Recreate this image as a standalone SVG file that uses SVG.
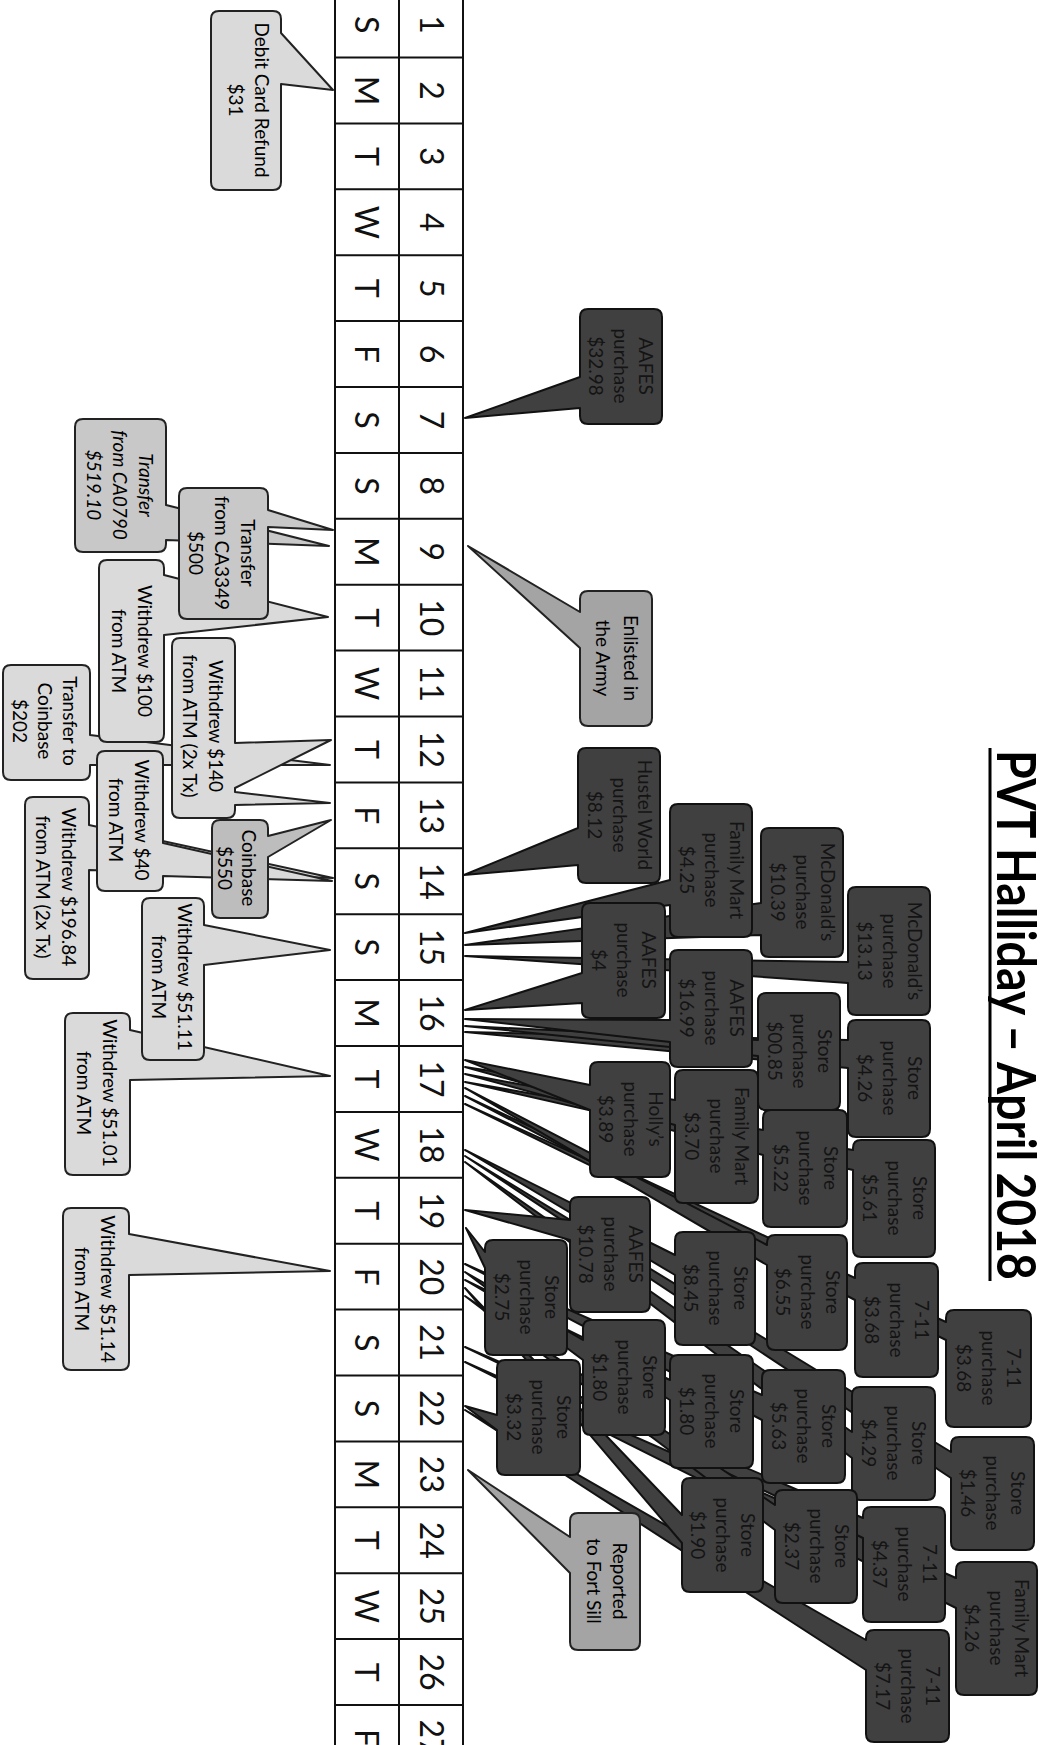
<svg xmlns="http://www.w3.org/2000/svg" width="1044" height="1745" viewBox="0 0 1044 1745">
<style>
text{font-family:Lato,"Open Sans","Liberation Sans",sans-serif}
.t{font-size:19px;text-anchor:middle;dominant-baseline:central;fill:#000}
.ti{font-style:italic}
.td{font-size:19px;text-anchor:middle;dominant-baseline:central;fill:#141414}
.c{font-size:32px;text-anchor:middle;dominant-baseline:central;fill:#111}
.lt{fill:#dadada;stroke:#222;stroke-width:2;stroke-linejoin:round}
.tr{fill:#c8c8c8;stroke:#222;stroke-width:2;stroke-linejoin:round}
.cb{fill:#bdbdbd;stroke:#222;stroke-width:2;stroke-linejoin:round}
.md{fill:#a4a4a4;stroke:#222;stroke-width:2;stroke-linejoin:round}
.dk{fill:#404040;stroke:#111;stroke-width:2;stroke-linejoin:round}
.grid{stroke:#111;stroke-width:2;fill:none}
</style>
<rect width="1044" height="1745" fill="#fff"/>

<g id="title">
<text transform="translate(997,750) rotate(90)" font-size="54" font-weight="bold" fill="#000" textLength="530" lengthAdjust="spacingAndGlyphs">PVT Halliday – April 2018</text>
<line x1="990" y1="748" x2="990" y2="1281" stroke="#000" stroke-width="3"/>
</g>

<g id="calendar">
<path class="grid" d="M335,-10V1750M399,-10V1750M463,-10V1750M335,57.5H463M335,123.4H463M335,189.3H463M335,255.2H463M335,321.1H463M335,387H463M335,452.9H463M335,518.8H463M335,584.7H463M335,650.6H463M335,716.5H463M335,782.4H463M335,848.3H463M335,914.2H463M335,980.1H463M335,1046H463M335,1111.9H463M335,1177.8H463M335,1243.7H463M335,1309.6H463M335,1375.5H463M335,1441.4H463M335,1507.3H463M335,1573.2H463M335,1639.1H463M335,1705H463"/>
<text class="c" transform="translate(432,24.6) rotate(90)">1</text><text class="c" transform="translate(367,24.6) rotate(90)">S</text>
<text class="c" transform="translate(432,90.5) rotate(90)">2</text><text class="c" transform="translate(367,90.5) rotate(90)">M</text>
<text class="c" transform="translate(432,156.4) rotate(90)">3</text><text class="c" transform="translate(367,156.4) rotate(90)">T</text>
<text class="c" transform="translate(432,222.3) rotate(90)">4</text><text class="c" transform="translate(367,222.3) rotate(90)">W</text>
<text class="c" transform="translate(432,288.2) rotate(90)">5</text><text class="c" transform="translate(367,288.2) rotate(90)">T</text>
<text class="c" transform="translate(432,354.1) rotate(90)">6</text><text class="c" transform="translate(367,354.1) rotate(90)">F</text>
<text class="c" transform="translate(432,420) rotate(90)">7</text><text class="c" transform="translate(367,420) rotate(90)">S</text>
<text class="c" transform="translate(432,485.9) rotate(90)">8</text><text class="c" transform="translate(367,485.9) rotate(90)">S</text>
<text class="c" transform="translate(432,551.8) rotate(90)">9</text><text class="c" transform="translate(367,551.8) rotate(90)">M</text>
<text class="c" transform="translate(432,617.7) rotate(90)">10</text><text class="c" transform="translate(367,617.7) rotate(90)">T</text>
<text class="c" transform="translate(432,683.6) rotate(90)">11</text><text class="c" transform="translate(367,683.6) rotate(90)">W</text>
<text class="c" transform="translate(432,749.5) rotate(90)">12</text><text class="c" transform="translate(367,749.5) rotate(90)">T</text>
<text class="c" transform="translate(432,815.4) rotate(90)">13</text><text class="c" transform="translate(367,815.4) rotate(90)">F</text>
<text class="c" transform="translate(432,881.3) rotate(90)">14</text><text class="c" transform="translate(367,881.3) rotate(90)">S</text>
<text class="c" transform="translate(432,947.2) rotate(90)">15</text><text class="c" transform="translate(367,947.2) rotate(90)">S</text>
<text class="c" transform="translate(432,1013.1) rotate(90)">16</text><text class="c" transform="translate(367,1013.1) rotate(90)">M</text>
<text class="c" transform="translate(432,1079) rotate(90)">17</text><text class="c" transform="translate(367,1079) rotate(90)">T</text>
<text class="c" transform="translate(432,1144.9) rotate(90)">18</text><text class="c" transform="translate(367,1144.9) rotate(90)">W</text>
<text class="c" transform="translate(432,1210.8) rotate(90)">19</text><text class="c" transform="translate(367,1210.8) rotate(90)">T</text>
<text class="c" transform="translate(432,1276.7) rotate(90)">20</text><text class="c" transform="translate(367,1276.7) rotate(90)">F</text>
<text class="c" transform="translate(432,1342.6) rotate(90)">21</text><text class="c" transform="translate(367,1342.6) rotate(90)">S</text>
<text class="c" transform="translate(432,1408.5) rotate(90)">22</text><text class="c" transform="translate(367,1408.5) rotate(90)">S</text>
<text class="c" transform="translate(432,1474.4) rotate(90)">23</text><text class="c" transform="translate(367,1474.4) rotate(90)">M</text>
<text class="c" transform="translate(432,1540.3) rotate(90)">24</text><text class="c" transform="translate(367,1540.3) rotate(90)">T</text>
<text class="c" transform="translate(432,1606.2) rotate(90)">25</text><text class="c" transform="translate(367,1606.2) rotate(90)">W</text>
<text class="c" transform="translate(432,1672.1) rotate(90)">26</text><text class="c" transform="translate(367,1672.1) rotate(90)">T</text>
<text class="c" transform="translate(432,1738) rotate(90)">27</text><text class="c" transform="translate(367,1738) rotate(90)">F</text>
</g>

<g id="connectors"></g>

<!-- left side: money movements -->
<g id="n-debit-refund">
<path class="lt" d="M219,11H273Q281,11 281,19V33L333,90L281,84V182Q281,190 273,190H219Q211,190 211,182V19Q211,11 219,11Z"/>
<g transform="translate(249,100) rotate(90)"><text class="t" y="-13">Debit Card Refund</text><text class="t" y="13">$31</text></g>
</g>
<g id="n-transfer-to-coinbase">
<path class="lt" d="M11,665H82Q90,665 90,673V735L330,765L90,765V772Q90,780 82,780H11Q3,780 3,772V673Q3,665 11,665Z"/>
<g transform="translate(45,721) rotate(90)"><text class="t" y="-25">Transfer to</text><text class="t" y="0">Coinbase</text><text class="t" y="25">$202</text></g>
</g>
<g id="n-transfer-ca0790">
<path class="tr" d="M83,419H158Q166,419 166,427V505L329,546L166,540V544Q166,552 158,552H83Q75,552 75,544V427Q75,419 83,419Z"/>
<g transform="translate(120,485) rotate(90)"><text class="t ti" y="-26">Transfer</text><text class="t ti" y="0">from CA0790</text><text class="t ti" y="26">$519.10</text></g>
</g>
<g id="n-withdrew-100">
<path class="lt" d="M107,560H156Q164,560 164,568V575L328,617L164,635V734Q164,742 156,742H107Q99,742 99,734V568Q99,560 107,560Z"/>
<g transform="translate(132,651) rotate(90)"><text class="t" y="-13">Withdrew $100</text><text class="t" y="13">from ATM</text></g>
</g>
<g id="n-transfer-ca3349">
<path class="tr" d="M187,488H260Q268,488 268,496V510L333,530L268,527V611Q268,619 260,619H187Q179,619 179,611V496Q179,488 187,488Z"/>
<g transform="translate(222,553) rotate(90)"><text class="t" y="-26">Transfer</text><text class="t" y="0">from CA3349</text><text class="t" y="26">$500</text></g>
</g>
<g id="n-withdrew-140">
<path class="lt" d="M180,638H227Q235,638 235,646V743L331,740L235,788V792L330,803L235,805V810Q235,818 227,818H180Q172,818 172,810V646Q172,638 180,638Z"/>
<g transform="translate(203,726) rotate(90)"><text class="t" y="-13">Withdrew $140</text><text class="t" y="13">from ATM (2x Tx)</text></g>
</g>
<g id="n-withdrew-196">
<path class="lt" d="M33,797H81Q89,797 89,805V825L333,878L89,870V971Q89,979 81,979H33Q25,979 25,971V805Q25,797 33,797Z"/>
<g transform="translate(56,887) rotate(90)"><text class="t" y="-13">Withdrew $196.84</text><text class="t" y="13">from ATM (2x Tx)</text></g>
</g>
<g id="n-withdrew-40">
<path class="lt" d="M105,751H155Q163,751 163,759V843L332,881L163,876V883Q163,891 155,891H105Q97,891 97,883V759Q97,751 105,751Z"/>
<g transform="translate(129,820) rotate(90)"><text class="t" y="-13">Withdrew $40</text><text class="t" y="13">from ATM</text></g>
</g>
<g id="n-coinbase-550">
<path class="cb" d="M220,820H260Q268,820 268,828V836L331,820L268,857V910Q268,918 260,918H220Q212,918 212,910V828Q212,820 220,820Z"/>
<g transform="translate(237,868) rotate(90)"><text class="t" y="-12">Coinbase</text><text class="t" y="12">$550</text></g>
</g>
<g id="n-withdrew-5101">
<path class="lt" d="M73,1013H122Q130,1013 130,1021V1030L330,1076L130,1080V1167Q130,1175 122,1175H73Q65,1175 65,1167V1021Q65,1013 73,1013Z"/>
<g transform="translate(97,1093) rotate(90)"><text class="t" y="-13">Withdrew $51.01</text><text class="t" y="13">from ATM</text></g>
</g>
<g id="n-withdrew-5111">
<path class="lt" d="M150,898H196Q204,898 204,906V925L330,950L204,965V1052Q204,1060 196,1060H150Q142,1060 142,1052V906Q142,898 150,898Z"/>
<g transform="translate(172,977) rotate(90)"><text class="t" y="-13">Withdrew $51.11</text><text class="t" y="13">from ATM</text></g>
</g>
<g id="n-withdrew-5114">
<path class="lt" d="M71,1208H121Q129,1208 129,1216V1234L330,1271L129,1275V1362Q129,1370 121,1370H71Q63,1370 63,1362V1216Q63,1208 71,1208Z"/>
<g transform="translate(95,1289) rotate(90)"><text class="t" y="-13">Withdrew $51.14</text><text class="t" y="13">from ATM</text></g>
</g>

<!-- right side: purchases -->
<g id="n-fm-426">
<path class="dk" d="M964,1562H1029Q1037,1562 1037,1570V1687Q1037,1695 1029,1695H964Q956,1695 956,1687V1608L465,1362L956,1578V1570Q956,1562 964,1562Z"/>
<g transform="translate(997,1628) rotate(90)"><text class="td" y="-25">Family Mart</text><text class="td" y="0">purchase</text><text class="td" y="25">$4.26</text></g>
</g>
<g id="n-store-146">
<path class="dk" d="M959,1437H1026Q1034,1437 1034,1445V1542Q1034,1550 1026,1550H959Q951,1550 951,1542V1478L465,1156L951,1452V1445Q951,1437 959,1437Z"/>
<g transform="translate(993,1493) rotate(90)"><text class="td" y="-25">Store</text><text class="td" y="0">purchase</text><text class="td" y="25">$1.46</text></g>
</g>
<g id="n-711-368b">
<path class="dk" d="M954,1310H1023Q1031,1310 1031,1318V1419Q1031,1427 1023,1427H954Q946,1427 946,1419V1340L465,1104L946,1322V1318Q946,1310 954,1310Z"/>
<g transform="translate(989,1368) rotate(90)"><text class="td" y="-25">7-11</text><text class="td" y="0">purchase</text><text class="td" y="25">$3.68</text></g>
</g>
<g id="n-711-717">
<path class="dk" d="M874,1630H941Q949,1630 949,1638V1734Q949,1742 941,1742H874Q866,1742 866,1734V1670L465,1410L866,1640V1638Q866,1630 874,1630Z"/>
<g transform="translate(908,1686) rotate(90)"><text class="td" y="-25">7-11</text><text class="td" y="0">purchase</text><text class="td" y="25">$7.17</text></g>
</g>
<g id="n-711-437">
<path class="dk" d="M871,1507H937Q945,1507 945,1515V1614Q945,1622 937,1622H871Q863,1622 863,1614V1538L465,1347L863,1518V1515Q863,1507 871,1507Z"/>
<g transform="translate(905,1564) rotate(90)"><text class="td" y="-25">7-11</text><text class="td" y="0">purchase</text><text class="td" y="25">$4.37</text></g>
</g>
<g id="n-711-368a">
<path class="dk" d="M863,1263H930Q938,1263 938,1271V1369Q938,1377 930,1377H863Q855,1377 855,1369V1300L465,1096L855,1278V1271Q855,1263 863,1263Z"/>
<g transform="translate(897,1320) rotate(90)"><text class="td" y="-25">7-11</text><text class="td" y="0">purchase</text><text class="td" y="25">$3.68</text></g>
</g>
<g id="n-store-561">
<path class="dk" d="M861,1140H927Q935,1140 935,1148V1249Q935,1257 927,1257H861Q853,1257 853,1249V1170L465,1082L853,1150V1148Q853,1140 861,1140Z"/>
<g transform="translate(895,1198) rotate(90)"><text class="td" y="-25">Store</text><text class="td" y="0">purchase</text><text class="td" y="25">$5.61</text></g>
</g>
<g id="n-store-429">
<path class="dk" d="M860,1387H927Q935,1387 935,1395V1492Q935,1500 927,1500H860Q852,1500 852,1492V1458L465,1162L852,1432V1395Q852,1387 860,1387Z"/>
<g transform="translate(894,1443) rotate(90)"><text class="td" y="-25">Store</text><text class="td" y="0">purchase</text><text class="td" y="25">$4.29</text></g>
</g>
<g id="n-mcd-1313">
<path class="dk" d="M856,887H922Q930,887 930,895V1007Q930,1015 922,1015H856Q848,1015 848,1007V983L465,956L848,962V895Q848,887 856,887Z"/>
<g transform="translate(890,951) rotate(90)"><text class="td" y="-25">McDonald’s</text><text class="td" y="0">purchase</text><text class="td" y="25">$13.13</text></g>
</g>
<g id="n-store-426">
<path class="dk" d="M856,1020H922Q930,1020 930,1028V1129Q930,1137 922,1137H856Q848,1137 848,1129V1068L465,1032L848,1040V1028Q848,1020 856,1020Z"/>
<g transform="translate(890,1078) rotate(90)"><text class="td" y="-25">Store</text><text class="td" y="0">purchase</text><text class="td" y="25">$4.26</text></g>
</g>
<g id="n-store-237">
<path class="dk" d="M783,1490H849Q857,1490 857,1498V1595Q857,1603 849,1603H783Q775,1603 775,1595V1530L465,1296L775,1505V1498Q775,1490 783,1490Z"/>
<g transform="translate(817,1546) rotate(90)"><text class="td" y="-25">Store</text><text class="td" y="0">purchase</text><text class="td" y="25">$2.37</text></g>
</g>
<g id="n-store-655">
<path class="dk" d="M775,1235H839Q847,1235 847,1243V1342Q847,1350 839,1350H775Q767,1350 767,1342V1265L465,1088L767,1245V1243Q767,1235 775,1235Z"/>
<g transform="translate(808,1292) rotate(90)"><text class="td" y="-25">Store</text><text class="td" y="0">purchase</text><text class="td" y="25">$6.55</text></g>
</g>
<g id="n-store-522">
<path class="dk" d="M771,1110H839Q847,1110 847,1118V1219Q847,1227 839,1227H771Q763,1227 763,1219V1155L465,1074L763,1130V1118Q763,1110 771,1110Z"/>
<g transform="translate(806,1168) rotate(90)"><text class="td" y="-25">Store</text><text class="td" y="0">purchase</text><text class="td" y="25">$5.22</text></g>
</g>
<g id="n-store-563">
<path class="dk" d="M770,1370H837Q845,1370 845,1378V1475Q845,1483 837,1483H770Q762,1483 762,1475V1420L465,1264L762,1395V1378Q762,1370 770,1370Z"/>
<g transform="translate(804,1426) rotate(90)"><text class="td" y="-25">Store</text><text class="td" y="0">purchase</text><text class="td" y="25">$5.63</text></g>
</g>
<g id="n-mcd-1039">
<path class="dk" d="M769,828H835Q843,828 843,836V949Q843,957 835,957H769Q761,957 761,949V935L465,945L761,903V836Q761,828 769,828Z"/>
<g transform="translate(803,892) rotate(90)"><text class="td" y="-25">McDonald’s</text><text class="td" y="0">purchase</text><text class="td" y="25">$10.39</text></g>
</g>
<g id="n-store-0085">
<path class="dk" d="M766,993H832Q840,993 840,1001V1102Q840,1110 832,1110H766Q758,1110 758,1102V1056L465,1026L758,1040V1001Q758,993 766,993Z"/>
<g transform="translate(800,1051) rotate(90)"><text class="td" y="-25">Store</text><text class="td" y="0">purchase</text><text class="td" y="25">$00.85</text></g>
</g>
<g id="n-store-190">
<path class="dk" d="M690,1478H755Q763,1478 763,1486V1584Q763,1592 755,1592H690Q682,1592 682,1584V1543L465,1288L682,1515V1486Q682,1478 690,1478Z"/>
<g transform="translate(723,1535) rotate(90)"><text class="td" y="-25">Store</text><text class="td" y="0">purchase</text><text class="td" y="25">$1.90</text></g>
</g>
<g id="n-fm-370">
<path class="dk" d="M683,1070H750Q758,1070 758,1078V1195Q758,1203 750,1203H683Q675,1203 675,1195V1125L465,1067L675,1100V1078Q675,1070 683,1070Z"/>
<g transform="translate(717,1136) rotate(90)"><text class="td" y="-25">Family Mart</text><text class="td" y="0">purchase</text><text class="td" y="25">$3.70</text></g>
</g>
<g id="n-store-845">
<path class="dk" d="M683,1232H747Q755,1232 755,1240V1337Q755,1345 747,1345H683Q675,1345 675,1337V1275L465,1150L675,1255V1240Q675,1232 683,1232Z"/>
<g transform="translate(716,1288) rotate(90)"><text class="td" y="-25">Store</text><text class="td" y="0">purchase</text><text class="td" y="25">$8.45</text></g>
</g>
<g id="n-fm-425">
<path class="dk" d="M678,804H744Q752,804 752,812V929Q752,937 744,937H678Q670,937 670,929V905L465,933L670,880V812Q670,804 678,804Z"/>
<g transform="translate(712,870) rotate(90)"><text class="td" y="-25">Family Mart</text><text class="td" y="0">purchase</text><text class="td" y="25">$4.25</text></g>
</g>
<g id="n-aafes-1699">
<path class="dk" d="M678,950H744Q752,950 752,958V1059Q752,1067 744,1067H678Q670,1067 670,1059V1042L465,1019L670,1020V958Q670,950 678,950Z"/>
<g transform="translate(712,1008) rotate(90)"><text class="td" y="-25">AAFES</text><text class="td" y="0">purchase</text><text class="td" y="25">$16.99</text></g>
</g>
<g id="n-store-180b">
<path class="dk" d="M678,1355H745Q753,1355 753,1363V1460Q753,1468 745,1468H678Q670,1468 670,1460V1400L465,1280L670,1380V1363Q670,1355 678,1355Z"/>
<g transform="translate(712,1411) rotate(90)"><text class="td" y="-25">Store</text><text class="td" y="0">purchase</text><text class="td" y="25">$1.80</text></g>
</g>
<g id="n-hollys-389">
<path class="dk" d="M598,1062H662Q670,1062 670,1070V1169Q670,1177 662,1177H598Q590,1177 590,1169V1110L465,1060L590,1085V1070Q590,1062 598,1062Z"/>
<g transform="translate(631,1119) rotate(90)"><text class="td" y="-25">Holly’s</text><text class="td" y="0">purchase</text><text class="td" y="25">$3.89</text></g>
</g>
<g id="n-store-180a">
<path class="dk" d="M591,1320H657Q665,1320 665,1328V1427Q665,1435 657,1435H591Q583,1435 583,1427V1360L465,1272L583,1340V1328Q583,1320 591,1320Z"/>
<g transform="translate(625,1377) rotate(90)"><text class="td" y="-25">Store</text><text class="td" y="0">purchase</text><text class="td" y="25">$1.80</text></g>
</g>
<g id="n-aafes-4">
<path class="dk" d="M590,903H657Q665,903 665,911V1010Q665,1018 657,1018H590Q582,1018 582,1010V1003L465,1010L582,973V911Q582,903 590,903Z"/>
<g transform="translate(624,960) rotate(90)"><text class="td" y="-25">AAFES</text><text class="td" y="0">purchase</text><text class="td" y="25">$4</text></g>
</g>
<g id="n-aafes-3298">
<path class="dk" d="M588,309H654Q662,309 662,317V416Q662,424 654,424H588Q580,424 580,416V408L465,418L580,377V317Q580,309 588,309Z"/>
<g transform="translate(621,366) rotate(90)"><text class="td" y="-25">AAFES</text><text class="td" y="0">purchase</text><text class="td" y="25">$32.98</text></g>
</g>
<g id="n-hustel-812">
<path class="dk" d="M586,748H652Q660,748 660,756V875Q660,883 652,883H586Q578,883 578,875V865L464,875L578,828V756Q578,748 586,748Z"/>
<g transform="translate(620,815) rotate(90)"><text class="td" y="-25">Hustel World</text><text class="td" y="0">purchase</text><text class="td" y="25">$8.12</text></g>
</g>
<g id="n-aafes-1078">
<path class="dk" d="M578,1197H642Q650,1197 650,1205V1304Q650,1312 642,1312H578Q570,1312 570,1304V1240L465,1210L570,1220V1205Q570,1197 578,1197Z"/>
<g transform="translate(611,1254) rotate(90)"><text class="td" y="-25">AAFES</text><text class="td" y="0">purchase</text><text class="td" y="25">$10.78</text></g>
</g>
<g id="n-store-332">
<path class="dk" d="M505,1360H572Q580,1360 580,1368V1467Q580,1475 572,1475H505Q497,1475 497,1467V1430L465,1406L497,1415V1368Q497,1360 505,1360Z"/>
<g transform="translate(539,1417) rotate(90)"><text class="td" y="-25">Store</text><text class="td" y="0">purchase</text><text class="td" y="25">$3.32</text></g>
</g>
<g id="n-store-275">
<path class="dk" d="M493,1240H559Q567,1240 567,1248V1347Q567,1355 559,1355H493Q485,1355 485,1347V1268L466,1228L485,1252V1248Q485,1240 493,1240Z"/>
<g transform="translate(527,1297) rotate(90)"><text class="td" y="-25">Store</text><text class="td" y="0">purchase</text><text class="td" y="25">$2.75</text></g>
</g>

<!-- milestones -->
<g id="n-enlisted">
<path class="md" d="M588,591H644Q652,591 652,599V718Q652,726 644,726H588Q580,726 580,718V648L468,546L580,612V599Q580,591 588,591Z"/>
<g transform="translate(617,658) rotate(90)"><text class="t" y="-14">Enlisted in</text><text class="t" y="14">the Army</text></g>
</g>
<g id="n-reported">
<path class="md" d="M578,1513H632Q640,1513 640,1521V1642Q640,1650 632,1650H578Q570,1650 570,1642V1573L468,1470L570,1537V1521Q570,1513 578,1513Z"/>
<g transform="translate(607,1581) rotate(90)"><text class="t" y="-13">Reported</text><text class="t" y="13">to Fort Sill</text></g>
</g>
</svg>
